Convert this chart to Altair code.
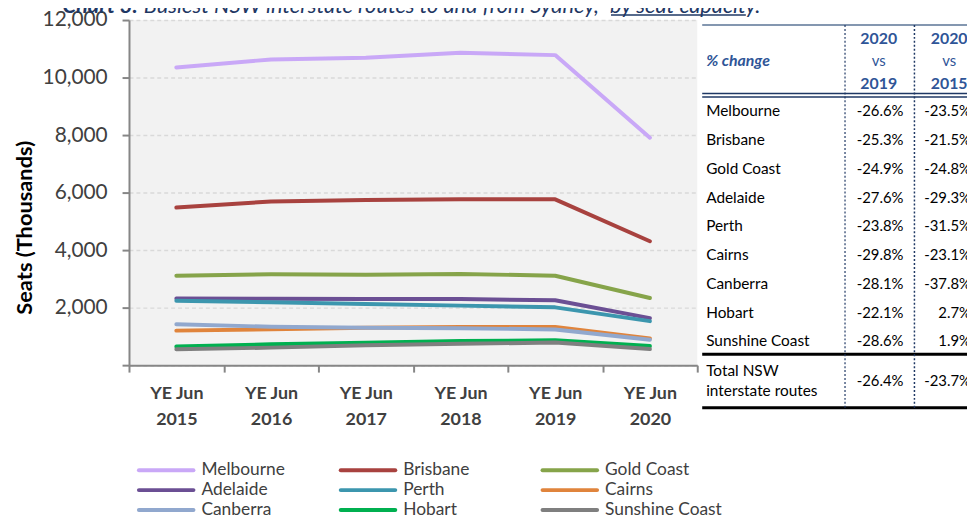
import altair as alt
import pandas as pd

# ---------------- data ----------------
years = ["YE Jun 2015", "YE Jun 2016", "YE Jun 2017", "YE Jun 2018", "YE Jun 2019", "YE Jun 2020"]
routes = ["Melbourne", "Brisbane", "Gold Coast", "Adelaide", "Perth",
          "Cairns", "Canberra", "Hobart", "Sunshine Coast"]
colors = ["#C9A8F7", "#A8423F", "#86A44A", "#6B4F94", "#3C96AE",
          "#E0843C", "#91A8CE", "#00B050", "#7F7F7F"]

melbourne = [10350, 10630, 10690, 10860, 10780, 7910]
brisbane = [5480, 5690, 5745, 5770, 5765, 4310]
gold_coast = [3110, 3160, 3140, 3170, 3110, 2335]
adelaide = [2320, 2310, 2300, 2300, 2255, 1635]
perth = [2240, 2185, 2125, 2070, 2010, 1530]
cairns = [1200, 1250, 1300, 1330, 1330, 930]
canberra = [1420, 1335, 1300, 1285, 1240, 880]
hobart = [645, 725, 780, 840, 865, 665]
sunshine_coast = [550, 610, 690, 745, 785, 560]
series = [melbourne, brisbane, gold_coast, adelaide, perth, cairns, canberra, hobart, sunshine_coast]

chg_2019 = ["-26.6%", "-25.3%", "-24.9%", "-27.6%", "-23.8%", "-29.8%", "-28.1%", "-22.1%", "-28.6%"]
chg_2015 = ["-23.5%", "-21.5%", "-24.8%", "-29.3%", "-31.5%", "-23.1%", "-37.8%", "2.7%", "1.9%"]
total_chg_2019 = "-26.4%"
total_chg_2015 = "-23.7%"

title_a = "Chart 3:"
title_b = "Busiest NSW interstate routes to and from Sydney,"
title_c = "by seat capacity."

rows = []
for r, vals in zip(routes, series):
    for y, v in zip(years, vals):
        rows.append({"route": r, "year": y, "seats": v})
df = pd.DataFrame(rows)

table_df = pd.DataFrame({"route": routes, "c1": chg_2019, "c2": chg_2015, "i": list(range(len(routes)))})
legend_df = pd.DataFrame({"route": routes, "i": list(range(len(routes)))})
one_row = pd.DataFrame({"k": [0]})

FONT = "Lato"
NAVY = "#1F3864"
BLUE = "#2F5597"

color_enc = alt.Color("route:N", scale=alt.Scale(domain=routes, range=colors), legend=None)

# ---------------- line chart ----------------
lines = alt.Chart(df).mark_line(strokeWidth=4, strokeCap="round", strokeJoin="round").encode(
    x=alt.X("year:N", sort=years, title=None, bandPosition=0.5,
            scale=alt.Scale(type="band", domain=years, paddingInner=0, paddingOuter=0),
            axis=alt.Axis(labelExpr="[substring(datum.label, 0, 6), substring(datum.label, 7)]",
                          labelAngle=0, labelFont=FONT, labelFontSize=18, labelFontWeight="bold",
                          labelColor="#404040", labelLineHeight=26, labelPadding=13,
                          tickBand="extent", tickSize=7, tickWidth=2, tickColor="#868686",
                          domainColor="#868686", domainWidth=2, grid=False)),
    y=alt.Y("seats:Q", title="Seats (Thousands)",
            scale=alt.Scale(domain=[0, 12000], nice=False),
            axis=alt.Axis(values=[0, 2000, 4000, 6000, 8000, 10000, 12000],
                          labelExpr="datum.value == 0 ? '' : format(datum.value, ',')",
                          labelFont=FONT, labelFontSize=21, labelColor="#404040", labelPadding=15,
                          tickSize=7, tickWidth=2, tickColor="#868686",
                          domainColor="#868686", domainWidth=2,
                          grid=True, gridColor="#D9D9D9", gridDash=[4, 3], gridWidth=1.5,
                          titleFont=FONT, titleFontSize=22, titleFontWeight="bold", titleColor="#000000",
                          titleAngle=-90, titleX=-105, titleY=209, titleAlign="center",
                          titleBaseline="middle")),
    color=color_enc,
    order=alt.Order("year:N"),
)

# ---------------- helpers ----------------
def txt(text, x, y, size=15, weight="normal", style="normal", color="#000000", align="left", baseline="middle"):
    return alt.Chart(one_row).mark_text(align=align, baseline=baseline, font=FONT, fontSize=size,
                                        fontWeight=weight, fontStyle=style, color=color).encode(
        x=alt.value(x), y=alt.value(y), text=alt.value(text))

def rule(x1, x2, y1, y2, color, width, dash=None):
    kw = dict(color=color, strokeWidth=width)
    if dash:
        kw["strokeDash"] = dash
    return alt.Chart(one_row).mark_rule(**kw).encode(
        x=alt.value(x1), x2=alt.value(x2), y=alt.value(y1), y2=alt.value(y2))

# ---------------- title (clipped at top like the reference) ----------------
title_layers = [
    txt(title_a, -67, -7, size=22, weight="bold", style="italic", color=NAVY, baseline="alphabetic"),
    txt(title_b, 15, -7, size=22, style="italic", color=NAVY, baseline="alphabetic"),
    txt(title_c, 485, -7, size=22, style="italic", color=NAVY, baseline="alphabetic"),
    rule(486, 622, -5, -5, NAVY, 1.5),
]

# ---------------- table ----------------
TX0, TX1 = 578, 845
table_rules = [
    rule(TX0, TX1, 5, 5, "#8497B0", 2),
    rule(TX0, TX1, 74, 74, NAVY, 1.5),
    rule(TX0, TX1, 77.5, 77.5, NAVY, 1.5),
    rule(TX0, TX1, 337, 337, "#000000", 3),
    rule(TX0, TX1, 391, 391, "#000000", 3),
    rule(722, 722, 5, 391, NAVY, 1.2, [2, 2]),
    rule(792, 792, 5, 391, NAVY, 1.5, [2, 2]),
]

table_header = [
    txt("% change", 582, 41, size=16, weight="bold", style="italic", color=BLUE),
    txt("2020", 756, 19, size=16, weight="bold", color=BLUE, align="center"),
    txt("vs", 756, 41, size=15, color=BLUE, align="center"),
    txt("2019", 756, 65, size=16, weight="bold", color=BLUE, align="center"),
    txt("2020", 827, 19, size=16, weight="bold", color=BLUE, align="center"),
    txt("vs", 827, 41, size=15, color=BLUE, align="center"),
    txt("2015", 827, 65, size=16, weight="bold", color=BLUE, align="center"),
]

tbase = alt.Chart(table_df).transform_calculate(ty="92 + 29 * datum.i")
row_labels = tbase.mark_text(align="left", baseline="middle", font=FONT, fontSize=15.5, color="#000000").encode(
    x=alt.value(582), y=alt.Y("ty:Q", scale=None, axis=None), text="route:N")
row_c1 = tbase.mark_text(align="right", baseline="middle", font=FONT, fontSize=15, color="#000000").encode(
    x=alt.value(781), y=alt.Y("ty:Q", scale=None, axis=None), text="c1:N")
row_c2 = tbase.mark_text(align="right", baseline="middle", font=FONT, fontSize=15, color="#000000").encode(
    x=alt.value(849), y=alt.Y("ty:Q", scale=None, axis=None), text="c2:N")

total_layers = [
    txt("Total NSW", 582, 354, size=15.5),
    txt("interstate routes", 582, 374, size=15.5),
    txt(total_chg_2019, 781, 364, size=15, align="right"),
    txt(total_chg_2015, 849, 364, size=15, align="right"),
]

# ---------------- legend (3 columns) ----------------
lbase = alt.Chart(legend_df).transform_calculate(
    lx="10 + (datum.i % 3) * 203.5",
    lx2="10 + (datum.i % 3) * 203.5 + 55",
    tx="10 + (datum.i % 3) * 203.5 + 63",
    ly="454 + floor(datum.i / 3) * 20",
)
leg_sym = lbase.mark_rule(strokeWidth=4, strokeCap="round").encode(
    x=alt.X("lx:Q", scale=None, axis=None), x2="lx2:Q",
    y=alt.Y("ly:Q", scale=None, axis=None), color=color_enc)
leg_txt = lbase.mark_text(align="left", baseline="middle", font=FONT, fontSize=17.5, color="#404040").encode(
    x=alt.X("tx:Q", scale=None, axis=None), y=alt.Y("ly:Q", scale=None, axis=None), text="route:N")

chart = alt.layer(
    lines, *title_layers, *table_rules, *table_header, row_labels, row_c1, row_c2,
    *total_layers, leg_sym, leg_txt
).resolve_scale(
    x="independent", y="independent"
).properties(
    width=573, height=348,
    autosize=alt.AutoSizeParams(type="none"),
    padding={"left": 122, "top": 10, "right": 272, "bottom": 153},
    background="#FFFFFF",
).configure_view(fill="#F2F2F2", strokeWidth=0)

chart.save("out.html", embed_options={"renderer": "svg", "actions": False})
